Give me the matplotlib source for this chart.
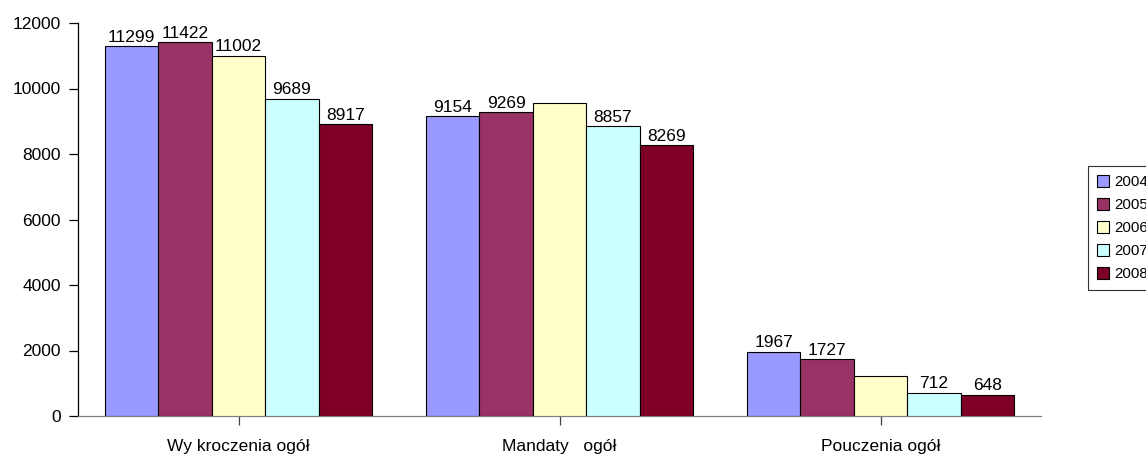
import matplotlib
matplotlib.use("Agg")
import matplotlib.pyplot as plt
import numpy as np
from matplotlib.patches import Patch

plt.rcParams['font.family'] = ['Liberation Sans', 'DejaVu Sans']

categories = ["Wy kroczenia ogół", "Mandaty   ogół", "Pouczenia ogół"]
years = ["2004", "2005", "2006", "2007", "2008"]
v2004 = [11299, 9154, 1967]
v2005 = [11422, 9269, 1727]
v2006 = [11002, 9570, 1230]
v2007 = [9689, 8857, 712]
v2008 = [8917, 8269, 648]
# which value labels are shown in the reference (2006 labels missing for two groups)
show2006 = [True, False, False]
yticks = [0, 2000, 4000, 6000, 8000, 10000, 12000]

series = [v2004, v2005, v2006, v2007, v2008]
shows = [[True]*3, [True]*3, show2006, [True]*3, [True]*3]
colors = ["#9999FF", "#993366", "#FFFFCC", "#CCFFFF", "#7F0026"]

W, H = 1146, 455
fig = plt.figure(figsize=(W/100, H/100), dpi=100)
ax = fig.add_axes([78/W, (H-416)/H, (1041-78)/W, (416-23)/H])

bw = 1/6
x = np.arange(len(categories)) + 0.5
for i, (vals, sh, c) in enumerate(zip(series, shows, colors)):
    xs = x + (i-2)*bw
    bars = ax.bar(xs, vals, width=bw, color=c, edgecolor='black', linewidth=0.8, zorder=3)
    for b, v, s in zip(bars, vals, sh):
        if s:
            ax.annotate(str(v), (b.get_x()+b.get_width()/2, v), xytext=(0, 1),
                        textcoords='offset points', ha='center', va='bottom', fontsize=12.5)

ax.set_xlim(0, 3)
ax.set_ylim(0, 12000)
ax.set_yticks(yticks)
ax.set_yticklabels([str(t) for t in yticks], fontsize=12.5)
ax.set_xticks(x)
ax.set_xticklabels(categories, fontsize=12.5)
for s in ['top', 'right']:
    ax.spines[s].set_visible(False)
ax.spines['left'].set_color('black')
ax.spines['bottom'].set_color('#808080')
ax.spines['left'].set_linewidth(0.9)
ax.spines['bottom'].set_linewidth(0.9)
ax.tick_params(axis='y', length=6.5, width=0.9, color='black', pad=6)
ax.tick_params(axis='x', length=6.5, width=0.9, color='#404040', pad=10)

handles = [Patch(facecolor=c, edgecolor='black', linewidth=0.8) for c in colors]
leg = fig.legend(handles, years, loc='upper left', bbox_to_anchor=(1088/W, 1-166/H),
                 fontsize=10.8, frameon=True, fancybox=False, edgecolor='black',
                 handlelength=0.8, handleheight=0.8, handletextpad=0.35,
                 labelspacing=0.6, borderpad=0.6, borderaxespad=0)
leg.get_frame().set_linewidth(0.8)

fig.savefig("out.png", dpi=100)
